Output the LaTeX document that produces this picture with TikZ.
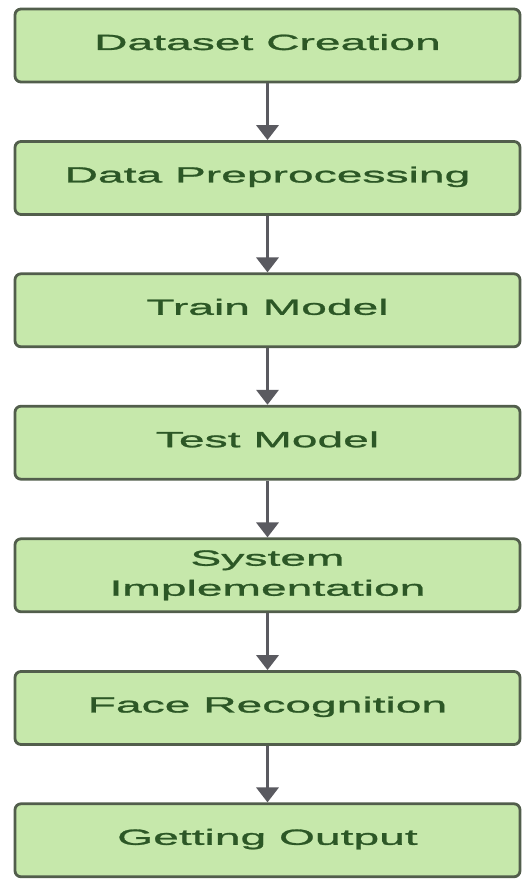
\documentclass[tikz,border=0pt]{standalone}
\usepackage{fontspec}
\setmainfont{Liberation Sans}[FakeStretch=2.1, FakeBold=1.2]
\usetikzlibrary{arrows.meta}
\definecolor{boxfill}{HTML}{C6E8AB}
\definecolor{boxline}{HTML}{525E4C}
\definecolor{boxtext}{HTML}{2C5726}
\definecolor{arrowgray}{HTML}{5A5A60}

\begin{document}
\begin{tikzpicture}[x=1pt,y=1pt,
  stepbox/.style={draw=boxline, line width=2.8pt, fill=boxfill, rounded corners=6pt,
    minimum width=505pt, minimum height=73pt, inner sep=0pt, text=boxtext,
    font=\fontsize{22}{30}\selectfont, align=center},
  oneline/.style={text height=16pt, text depth=7pt},
  flow/.style={draw=arrowgray, line width=3.5pt, -{Triangle[length=15pt,width=22pt]}}
]
  \fill[white] (0,0) rectangle (526,879);
  \useasboundingbox (0,0) rectangle (526,879);

  \node[stepbox, oneline] (s1) at (267.5,833.5) {Dataset Creation};
  \node[stepbox, oneline] (s2) at (267.5,701.0) {Data Preprocessing};
  \node[stepbox, oneline] (s3) at (267.5,568.7) {Train Model};
  \node[stepbox, oneline] (s4) at (267.5,436.3) {Test Model};
  \node[stepbox] (s5) at (267.5,303.7) {System\\Implementation};
  \node[stepbox, oneline] (s6) at (267.5,171.0) {Face Recognition};
  \node[stepbox, oneline] (s7) at (267.5,38.7) {Getting Output};

  \draw[flow] (s1.south) -- (s2.north);
  \draw[flow] (s2.south) -- (s3.north);
  \draw[flow] (s3.south) -- (s4.north);
  \draw[flow] (s4.south) -- (s5.north);
  \draw[flow] (s5.south) -- (s6.north);
  \draw[flow] (s6.south) -- (s7.north);
\end{tikzpicture}
\end{document}
